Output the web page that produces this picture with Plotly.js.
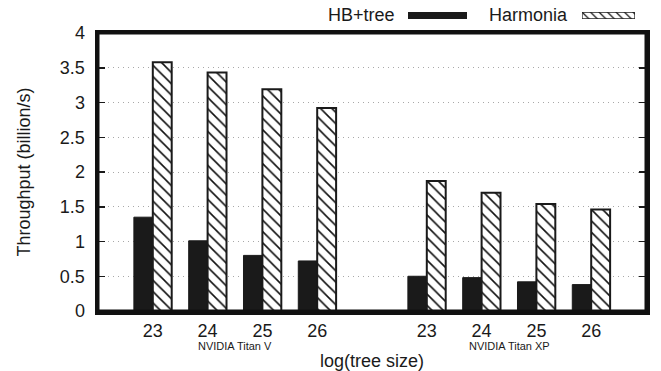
<!DOCTYPE html>
<html>
<head>
<meta charset="utf-8">
<script src="https://cdn.plot.ly/plotly-3.0.1.min.js"></script>
<style>html,body{margin:0;padding:0;background:#fff;}#chart{width:661px;height:371px;}</style>
</head>
<body>
<div id="chart"></div>
<script>
const sizes = ["23", "24", "25", "26"];
const gpus = ["NVIDIA Titan V", "NVIDIA Titan XP"];
const seriesNames = ["HB+tree", "Harmonia"];
const hbTitanV = [1.35, 1.01, 0.80, 0.72];
const hbTitanXP = [0.50, 0.48, 0.42, 0.38];
const harmoniaTitanV = [3.58, 3.43, 3.19, 2.92];
const harmoniaTitanXP = [1.87, 1.70, 1.54, 1.46];
const yTicks = [0, 0.5, 1, 1.5, 2, 2.5, 3, 3.5, 4];
const yTickText = ["0", "0.5", "1", "1.5", "2", "2.5", "3", "3.5", "4"];

const FONT = "Liberation Sans, Arial, Helvetica, sans-serif";
const INK = "#1a1a1a";

// positions: group g occupies slots g*(n+1) .. g*(n+1)+n-1, leaving an empty slot between groups
const n = sizes.length;
const xPos = [];
const xText = [];
gpus.forEach((g, gi) => sizes.forEach((s, si) => { xPos.push(gi * (n + 1) + si); xText.push(s); }));
const hbVals = hbTitanV.concat(hbTitanXP);
const harVals = harmoniaTitanV.concat(harmoniaTitanXP);

const traces = [
  {type: "bar", name: seriesNames[0], x: xPos, y: hbVals,
   marker: {color: INK, line: {color: INK, width: 1}}, showlegend: false, hoverinfo: "y"},
  {type: "bar", name: seriesNames[1], x: xPos, y: harVals,
   marker: {color: "#ffffff", line: {color: "#1a1a1a", width: 2},
            pattern: {shape: "\\", fgcolor: "#111", bgcolor: "#ffffff", size: 8, solidity: 0.2}},
   showlegend: false, hoverinfo: "y"},
  // legend keys
  {type: "bar", orientation: "h", x: [1], y: [0], width: [1], xaxis: "x2", yaxis: "y2",
   marker: {color: INK, line: {color: INK, width: 1}}, showlegend: false, hoverinfo: "skip"},
  {type: "bar", orientation: "h", x: [1], y: [0], width: [1], xaxis: "x3", yaxis: "y3",
   marker: {color: "#ffffff", line: {color: "#222", width: 1.3},
            pattern: {shape: "\\", fgcolor: "#111", bgcolor: "#ffffff", size: 6, solidity: 0.2}},
   showlegend: false, hoverinfo: "skip"}
];

const plotH = 371 - 5 - 60;
const pY = py => (311 - py) / plotH;
const plotW = 661 - 98 - 15;
const pX = px => (px - 98) / plotW;

const keyAxis = (dom) => ({domain: dom, range: [0, 1], visible: false, fixedrange: true});
const keyYAxis = (dom, anchor) => ({domain: dom, range: [-0.5, 0.5], visible: false, fixedrange: true, anchor: anchor});

const annotations = [];
gpus.forEach((g, gi) => {
  annotations.push({text: g, x: gi * (n + 1) + (n - 1) / 2, xref: "x", y: 0, yref: "paper",
    yshift: -35, xanchor: "center", yanchor: "middle", showarrow: false,
    font: {family: FONT, size: 11, color: INK}});
});
annotations.push({text: seriesNames[0], x: pX(397), xref: "paper", y: pY(15.5), yref: "paper",
  xanchor: "right", yanchor: "middle", showarrow: false, font: {family: FONT, size: 18, color: INK}});
annotations.push({text: seriesNames[1], x: pX(570), xref: "paper", y: pY(15.5), yref: "paper",
  xanchor: "right", yanchor: "middle", showarrow: false, font: {family: FONT, size: 18, color: INK}});

const layout = {
  width: 661, height: 371,
  margin: {l: 98, r: 15, t: 5, b: 60, pad: 0},
  paper_bgcolor: "#ffffff", plot_bgcolor: "#ffffff",
  font: {family: FONT, size: 18, color: INK},
  barmode: "group", bargap: 0.31, bargroupgap: 0,
  showlegend: false,
  xaxis: {
    range: [-1, (n + 1) * gpus.length - 1], tickmode: "array", tickvals: xPos, ticktext: xText,
    ticks: "", showgrid: false, zeroline: false,
    showline: true, linecolor: "#111", linewidth: 3.5, mirror: true,
    tickfont: {family: FONT, size: 18, color: INK}, ticklabelstandoff: 1,
    title: {text: "log(tree size)", font: {family: FONT, size: 18, color: INK}, standoff: 30},
    automargin: false, fixedrange: true
  },
  yaxis: {
    domain: [0, pY(33)], range: [0, 4], tickmode: "array", tickvals: yTicks, ticktext: yTickText,
    ticks: "inside", ticklen: 7, tickwidth: 1.5, tickcolor: INK,
    showgrid: true, gridcolor: "#a8a8a8", griddash: "1px,4px", gridwidth: 1,
    zeroline: false, showline: true, linecolor: "#111", linewidth: 3.5, mirror: "ticks",
    tickfont: {family: FONT, size: 18, color: INK}, ticklabelstandoff: 6,
    title: {text: "Throughput (billion/s)", font: {family: FONT, size: 18, color: INK}, standoff: 25},
    automargin: false, fixedrange: true
  },
  xaxis2: Object.assign(keyAxis([pX(408), pX(467)]), {anchor: "y2"}),
  yaxis2: keyYAxis([pY(19), pY(12)], "x2"),
  xaxis3: Object.assign(keyAxis([pX(582), pX(635)]), {anchor: "y3"}),
  yaxis3: keyYAxis([pY(19), pY(12)], "x3"),
  shapes: [{type: "rect", xref: "x domain", yref: "y domain", x0: 0, x1: 1, y0: 0, y1: 1,
            line: {color: "#111", width: 3}, fillcolor: "rgba(0,0,0,0)", layer: "above"}],
  annotations: annotations
};

Plotly.newPlot("chart", traces, layout, {displayModeBar: false, staticPlot: true});
</script>
</body>
</html>
